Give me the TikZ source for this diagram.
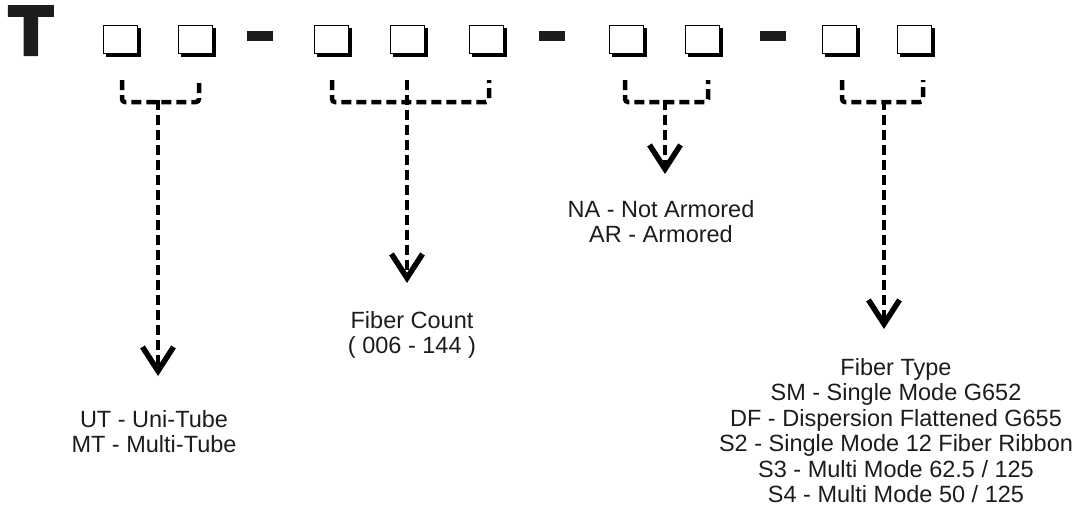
\documentclass[tikz,border=0pt]{standalone}
\usepackage{fontspec}
\setmainfont{Liberation Sans}
\newfontfamily\heavyfont[FakeBold=6]{Liberation Sans Bold}
\usetikzlibrary{arrows.meta}
\definecolor{ink}{HTML}{1C1C1C}
\tikzset{
  digit/.style={draw=black, line width=1pt, fill=white, minimum width=34pt, minimum height=28pt, inner sep=0pt,
    preaction={fill=black, draw=black, transform canvas={xshift=3pt, yshift=-3.5pt}}},
  sepbar/.style={fill=ink, draw=none, minimum width=26pt, minimum height=10pt, inner sep=0pt},
  brk/.style={line width=4.5pt, dash pattern=on 10pt off 5pt, rounded corners=3pt, draw=black},
  pointer/.style={line width=4.5pt, dash pattern=on 10pt off 5pt, draw=black,
    -{Straight Barb[length=24pt, width=31pt, line width=5.5pt]}},
  lbl/.style={inner sep=0pt, anchor=north, align=center, text=ink, font=\fontsize{23.5}{25.5}\selectfont}
}
\begin{document}
\begin{tikzpicture}[x=1pt,y=-1pt]
\useasboundingbox (0,0) rectangle (1085,515);
% prefix letter
\node[inner sep=0pt, text=ink, font=\heavyfont\fontsize{68}{68}\selectfont, xscale=1.04, anchor=north west] (T) at (9,7) {T};
% digit boxes
\node[digit] (b1) at (120,39) {};
\node[digit] (b2) at (195,39) {};
\node[sepbar] (d1) at (260,36) {};
\node[digit] (b3) at (331,39) {};
\node[digit] (b4) at (407,39) {};
\node[digit] (b5) at (486,39) {};
\node[sepbar] (d2) at (551.5,36) {};
\node[digit] (b6) at (626,39) {};
\node[digit] (b7) at (702,39) {};
\node[sepbar] (d3) at (773,36) {};
\node[digit] (b8) at (839,39) {};
\node[digit] (b9) at (914,39) {};
% brackets
\draw[brk] (122,80) -- (122,102) -- (199,102) -- (199,80);
\draw[brk] (332,80) -- (332,102) -- (489,102) -- (489,80);
\draw[brk] (625,80) -- (625,102) -- (708,102) -- (708,80);
\draw[brk] (842,80) -- (842,102) -- (923,102) -- (923,80);
% stem starts and tips
\coordinate (s1) at (158,100);
\coordinate (e1) at (158,376);
\coordinate (s2) at (407,80);
\coordinate (e2) at (407,283);
\coordinate (s3) at (665,100);
\coordinate (e3) at (665,174);
\coordinate (s4) at (884,100);
\coordinate (e4) at (884,329);
\draw[pointer] (s1) -- (e1);
\draw[pointer] (s2) -- (e2);
\draw[pointer] (s3) -- (e3);
\draw[pointer] (s4) -- (e4);
% labels
\node[lbl] (l1) at (154,410) {UT - Uni-Tube\\MT - Multi-Tube};
\node[lbl] (l2) at (412,311) {Fiber Count\\( 006 - 144 )};
\node[lbl] (l3) at (661,200) {NA - Not Armored\\AR - Armored};
\node[lbl] (l4) at (896,358) {Fiber Type\\SM - Single Mode G652\\DF - Dispersion Flattened G655\\S2 - Single Mode 12 Fiber Ribbon\\S3 - Multi Mode 62.5 / 125\\S4 - Multi Mode 50 / 125};
\end{tikzpicture}
\end{document}
